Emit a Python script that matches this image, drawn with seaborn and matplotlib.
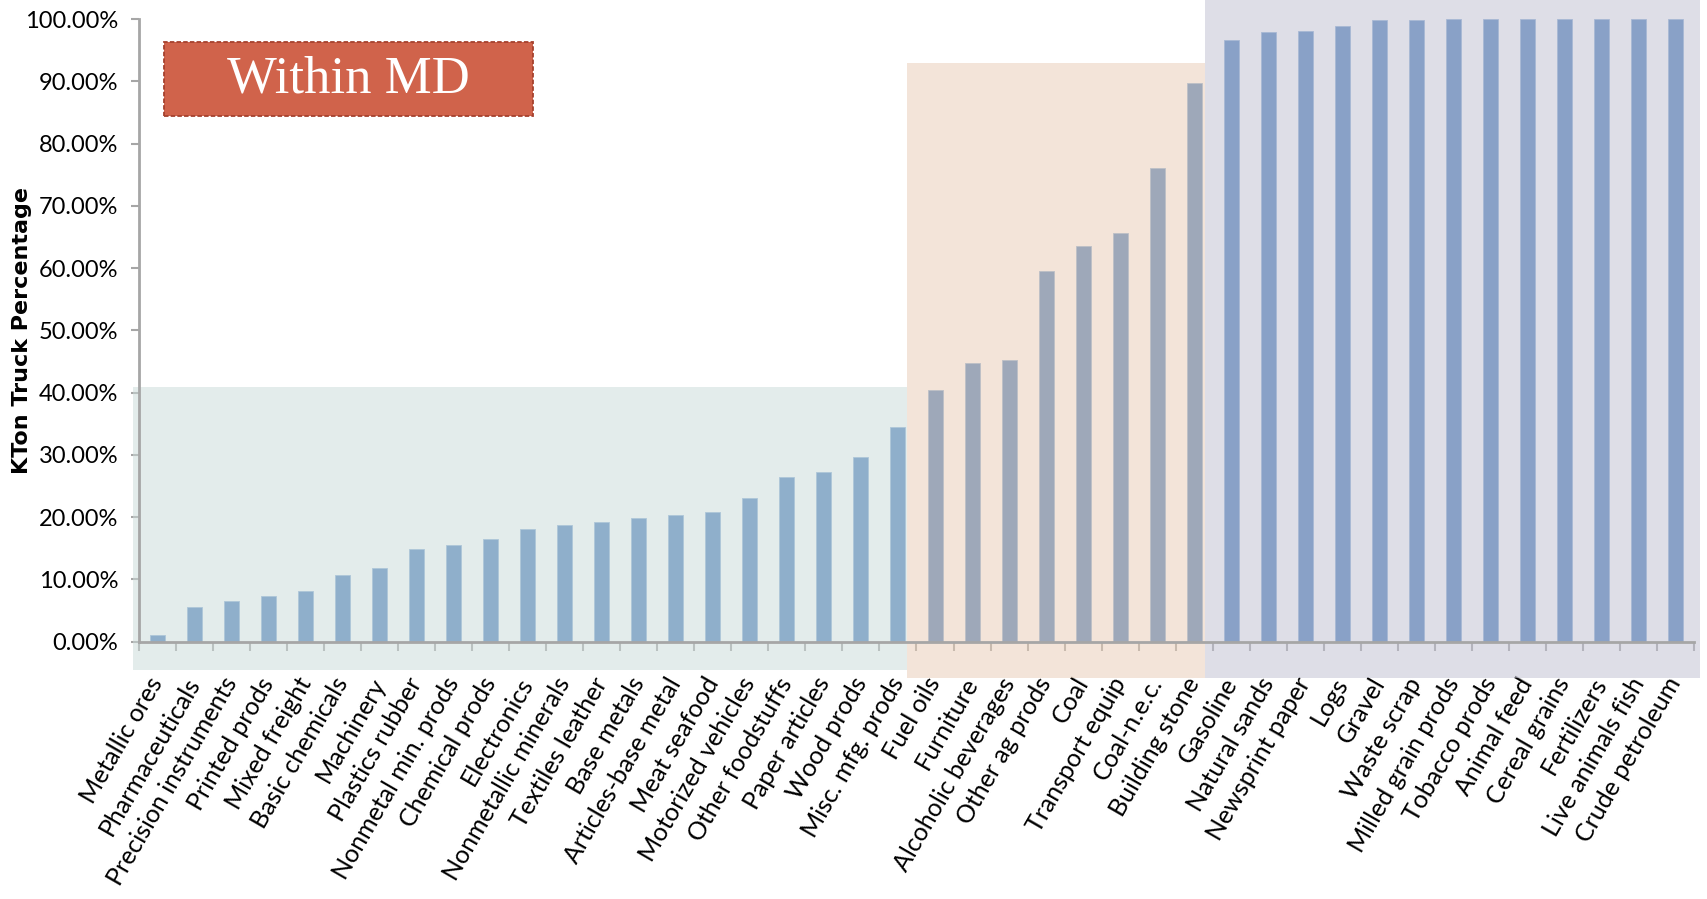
import matplotlib
matplotlib.use("Agg")
import matplotlib.pyplot as plt
from matplotlib.patches import Rectangle
from matplotlib.ticker import FixedLocator, FuncFormatter
import seaborn as sns
import pandas as pd

# Commodity groups, ordered by share of tonnage moved by truck within Maryland
commodities = [
    "Metallic ores", "Pharmaceuticals", "Precision instruments", "Printed prods",
    "Mixed freight", "Basic chemicals", "Machinery", "Plastics rubber",
    "Nonmetal min. prods", "Chemical prods", "Electronics", "Nonmetallic minerals",
    "Textiles leather", "Base metals", "Articles-base metal", "Meat seafood",
    "Motorized vehicles", "Other foodstuffs", "Paper articles", "Wood prods",
    "Misc. mfg. prods", "Fuel oils", "Furniture", "Alcoholic beverages",
    "Other ag prods", "Coal", "Transport equip", "Coal-n.e.c.", "Building stone",
    "Gasoline", "Natural sands", "Newsprint paper", "Logs", "Gravel",
    "Waste scrap", "Milled grain prods", "Tobacco prods", "Animal feed",
    "Cereal grains", "Fertilizers", "Live animals fish", "Crude petroleum",
]
truck_share = [
    1.1, 5.5, 6.6, 7.3, 8.1, 10.7, 11.8, 14.9, 15.5, 16.5, 18.1, 18.8,
    19.3, 19.8, 20.3, 20.8, 23.0, 26.4, 27.2, 29.6, 34.5,
    40.5, 44.7, 45.2, 59.5, 63.6, 65.6, 76.0, 89.7,
    96.7, 97.9, 98.1, 98.8, 99.8, 99.8, 100.0, 100.0, 100.0, 100.0, 100.0, 100.0, 100.0,
]
y_ticks = [0, 10, 20, 30, 40, 50, 60, 70, 80, 90, 100]

# Shaded bands: (left, right, bottom, top) in category / percent units, colour
bands = [
    (-0.675, 20.23, -4.6, 40.95, "#CBDBD9"),
    (20.23, 28.28, -5.8, 92.9, "#E8CDB6"),
    (28.28, 41.67, -5.9, 103.05, "#C0C0D1"),
]

sns.set_theme(style="white")
plt.rcParams["font.family"] = ["Lato", "DejaVu Sans"]

W, H = 1708, 899
fig = plt.figure(figsize=(W / 100, H / 100), dpi=100)
fig.patch.set_facecolor("white")

x0, x1, y0, y1 = 139, 1694, 641.7, 19
ax = fig.add_axes([x0 / W, 1 - y0 / H, (x1 - x0) / W, (y0 - y1) / H])

df = pd.DataFrame({"commodity": commodities, "share": truck_share})
sns.barplot(data=df, x="commodity", y="share", color="#4F81BD", saturation=1,
            width=0.405, ax=ax)
for p in ax.patches:
    p.set_zorder(0.5)
    p.set_edgecolor("#8FB0D8")
    p.set_linewidth(0.6)

for left, right, bottom, top, colour in bands:
    ax.add_patch(Rectangle((left, bottom), right - left, top - bottom,
                           facecolor=colour, edgecolor="none", alpha=0.52,
                           zorder=0.8, clip_on=False))

n = len(commodities)
ax.set_xlim(-0.5, n - 0.5)
ax.set_ylim(0, 100)
ax.set_xlabel("")
ax.set_ylabel("")

# y axis
ax.yaxis.set_major_locator(FixedLocator(y_ticks))
ax.yaxis.set_major_formatter(FuncFormatter(lambda v, _: f"{v:.2f}%"))
ax.tick_params(axis="y", which="major", direction="out", length=6, width=1.5,
               color="#A6A6A6", pad=9, labelsize=17, labelcolor="black", left=True)

# x axis: tick marks at category boundaries, labels at centres
ax.xaxis.set_major_locator(FixedLocator(list(range(n))))
ax.xaxis.set_minor_locator(FixedLocator([i - 0.5 for i in range(n + 1)]))
ax.tick_params(axis="x", which="major", length=0, pad=27, labelsize=18,
               labelcolor="black")
ax.tick_params(axis="x", which="minor", direction="out", length=6.5, width=1.5,
               color="#A6A6A6", bottom=True)
ax.set_xticks(range(n))
ax.set_xticklabels(commodities)
for lbl in ax.get_xticklabels():
    lbl.set_rotation(60)
    lbl.set_rotation_mode("anchor")
    lbl.set_ha("right")
    lbl.set_va("center")

for side in ("top", "right"):
    ax.spines[side].set_visible(False)
for side in ("left", "bottom"):
    ax.spines[side].set_color("#A6A6A6")
    ax.spines[side].set_linewidth(2)

fig.text(22 / W, 1 - 330 / H, "KTon Truck Percentage", rotation=90,
         ha="center", va="center", fontsize=16, fontweight="bold",
         family=["DejaVu Sans"], color="black")

# Title box in the upper left
bx0, bx1, by0, by1 = 164.5, 532.7, 42.3, 115.7
fig.patches.append(Rectangle((bx0 / W, 1 - by1 / H), (bx1 - bx0) / W, (by1 - by0) / H,
                             transform=fig.transFigure, facecolor="#D0634B",
                             edgecolor="#A5412E", linewidth=1.3,
                             linestyle=(0, (2.5, 1.2)), zorder=5))
fig.text((bx0 + bx1) / 2 / W, 1 - 79.5 / H, "Within MD", ha="center", va="center",
         fontsize=38, color="white", family=["Liberation Serif"], zorder=6)

fig.savefig("out.png", dpi=100, facecolor="white")
